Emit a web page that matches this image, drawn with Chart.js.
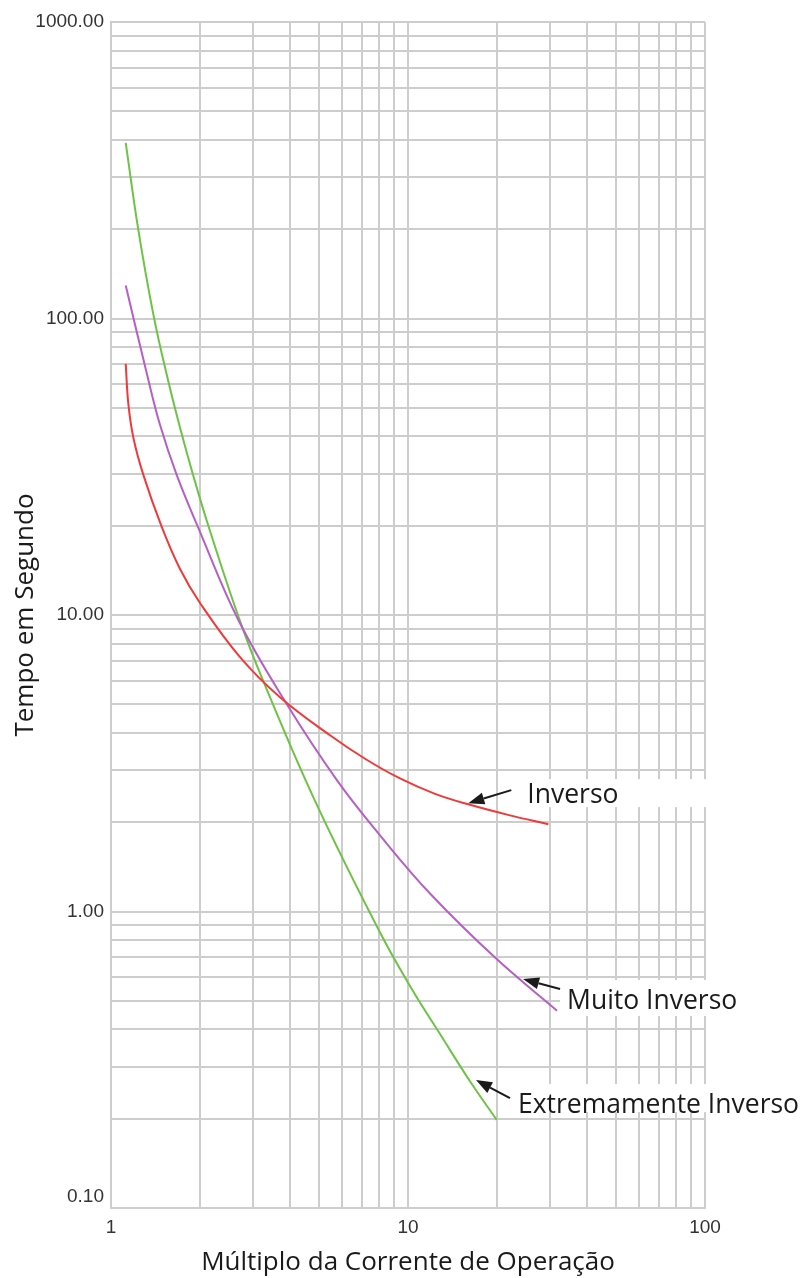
<!DOCTYPE html>
<html>
<head>
<meta charset="utf-8">
<script src="https://cdn.jsdelivr.net/npm/chart.js@4"></script>
<style>
  html, body { margin: 0; padding: 0; background: #fff; }
  #wrap { width: 803px; height: 1278px; }
</style>
</head>
<body>
<div id="wrap"><canvas id="chart"></canvas></div>
<script>
// curve readings (multiple of pickup current -> seconds)
const inversoMultiples = [1.121, 1.144, 1.189, 1.285, 1.482, 1.708, 1.994, 2.719, 3.707, 5.463, 7.167, 9.40, 12.33, 16.17, 22.05, 29.69];
const inversoTimes = [70.3, 51.5, 39.7, 29.7, 19.83, 14.3, 10.98, 7.21, 5.28, 3.93, 3.275, 2.81, 2.494, 2.29, 2.11, 1.97];

const muitoMultiples = [1.121, 1.325, 1.462, 1.664, 1.968, 2.684, 3.924, 5.754, 8.051, 11.86, 19.89, 31.75];
const muitoTimes = [129.3, 64.2, 43.8, 29.7, 19.68, 9.62, 4.97, 2.78, 1.806, 1.150, 0.691, 0.463];

const extMultiples = [1.121, 1.236, 1.388, 1.540, 1.708, 1.893, 2.127, 2.704, 3.257, 4.863, 8.051, 10.37, 12.82, 16.17, 19.89];
const extTimes = [391, 198.9, 103.5, 64.7, 42.8, 29.5, 20.0, 9.69, 5.98, 2.36, 0.849, 0.541, 0.386, 0.2676, 0.1983];

// axis decades
const xDecades = [1, 10];
const yDecades = [0.1, 1, 10, 100];
const xTickLabels = ['1', '10', '100'];
const yTickLabels = ['0.10', '1.00', '10.00', '100.00', '1000.00'];

const seriesNames = ['Inverso', 'Muito Inverso', 'Extremamente Inverso'];
const seriesColors = ['#f03a3a', '#b65fc4', '#6cc346'];

// where each name's arrow touches its curve
const calloutTargets = [[15.96, 2.32], [24.4, 0.592], [16.94, 0.27]];

function gridValues(decades) {
  const vals = [];
  decades.forEach(d => {
    for (let k = 1; k <= 9; k++) vals.push(d * k);
  });
  vals.push(decades[decades.length - 1] * 10);
  return vals;
}

function isDecade(v) {
  const l = Math.log10(v);
  return Math.abs(l - Math.round(l)) < 1e-9;
}

function toPoints(xs, ys) {
  return xs.map((x, i) => ({ x: x, y: ys[i] }));
}

const labelFont = '"Open Sans", "Noto Sans", sans-serif';
const tickFont = '"Liberation Sans", Arial, sans-serif';

const calloutPlugin = {
  id: 'callouts',
  afterDatasetsDraw(chart) {
    const { ctx, chartArea, scales } = chart;
    const layout = [
      { tail: [43, -13], text: [59, -9], box: [-15, 13] },
      { tail: [37, 10], text: [44, 21], box: [-20, 16] },
      { tail: [34, 18], text: [42, 24], box: [-20, 8] }
    ];
    ctx.save();
    ctx.font = '26.5px ' + labelFont;
    calloutTargets.forEach((t, i) => {
      const hx = scales.x.getPixelForValue(t[0]);
      const hy = scales.y.getPixelForValue(t[1]);
      const l = layout[i];
      const tx = hx + l.text[0];
      const ty = hy + l.text[1];
      const w = ctx.measureText(seriesNames[i]).width;
      // white label box that hides the grid
      const right = Math.max(tx + w + 3, chartArea.right + 2);
      ctx.fillStyle = '#ffffff';
      ctx.fillRect(tx - 7, ty + l.box[0], right - (tx - 7), l.box[1] - l.box[0]);
      ctx.fillStyle = '#1a1a1a';
      ctx.textAlign = 'left';
      ctx.textBaseline = 'middle';
      ctx.fillText(seriesNames[i], tx, ty + 1);

      // arrow
      const ax = hx + l.tail[0];
      const ay = hy + l.tail[1];
      const ang = Math.atan2(hy - ay, hx - ax);
      const headLen = 16, headW = 6;
      const bx = hx - Math.cos(ang) * headLen;
      const by = hy - Math.sin(ang) * headLen;
      ctx.strokeStyle = '#1a1a1a';
      ctx.lineWidth = 2;
      ctx.beginPath();
      ctx.moveTo(ax, ay);
      ctx.lineTo(bx, by);
      ctx.stroke();
      ctx.fillStyle = '#1a1a1a';
      ctx.beginPath();
      ctx.moveTo(hx, hy);
      ctx.lineTo(bx - Math.sin(ang) * headW, by + Math.cos(ang) * headW);
      ctx.lineTo(bx + Math.sin(ang) * headW, by - Math.cos(ang) * headW);
      ctx.closePath();
      ctx.fill();
    });
    ctx.restore();
  }
};

const gridStyle = { color: '#cdcdcd', lineWidth: 2, drawTicks: false };

new Chart(document.getElementById('chart'), {
  type: 'line',
  data: {
    datasets: [
      { label: seriesNames[0], data: toPoints(inversoMultiples, inversoTimes), borderColor: seriesColors[0] },
      { label: seriesNames[1], data: toPoints(muitoMultiples, muitoTimes), borderColor: seriesColors[1] },
      { label: seriesNames[2], data: toPoints(extMultiples, extTimes), borderColor: seriesColors[2] }
    ]
  },
  options: {
    responsive: true,
    maintainAspectRatio: false,
    animation: false,
    layout: { padding: { top: 22, right: 98, left: 0, bottom: 0 } },
    elements: {
      point: { radius: 0 },
      line: { borderWidth: 2, tension: 0.4, fill: false }
    },
    plugins: {
      legend: { display: false },
      tooltip: { enabled: false }
    },
    scales: {
      x: {
        type: 'logarithmic',
        min: 1,
        max: 100,
        grid: gridStyle,
        border: { display: true, color: '#cdcdcd', width: 2 },
        afterBuildTicks: scale => { scale.ticks = gridValues(xDecades).map(v => ({ value: v })); },
        afterFit: scale => { scale.height = 70; },
        ticks: {
          autoSkip: false,
          maxRotation: 0,
          padding: 8,
          color: '#333',
          font: { family: tickFont, size: 19 },
          callback: v => isDecade(v) ? xTickLabels[Math.round(Math.log10(v))] : ''
        },
        title: {
          display: true,
          text: 'Múltiplo da Corrente de Operação',
          color: '#1a1a1a',
          font: { family: labelFont, size: 26 },
          padding: { top: 0, bottom: 0 }
        }
      },
      y: {
        type: 'logarithmic',
        min: 0.1,
        max: 1000,
        grid: gridStyle,
        border: { display: true, color: '#cdcdcd', width: 2 },
        afterBuildTicks: scale => { scale.ticks = gridValues(yDecades).map(v => ({ value: v })); },
        afterFit: scale => { scale.width = 111; },
        ticks: {
          autoSkip: false,
          padding: 7,
          color: '#333',
          font: { family: tickFont, size: 19 },
          // bottom label sits above its line, as in the original
          callback: v => {
            if (!isDecade(v)) return '';
            const lbl = yTickLabels[Math.round(Math.log10(v)) + 1];
            return v < 0.5 ? [lbl, ''] : lbl;
          }
        },
        title: {
          display: true,
          text: 'Tempo em Segundo',
          color: '#1a1a1a',
          font: { family: labelFont, size: 26 },
          padding: { top: 10, bottom: 0 }
        }
      }
    }
  },
  plugins: [calloutPlugin]
});
</script>
</body>
</html>
